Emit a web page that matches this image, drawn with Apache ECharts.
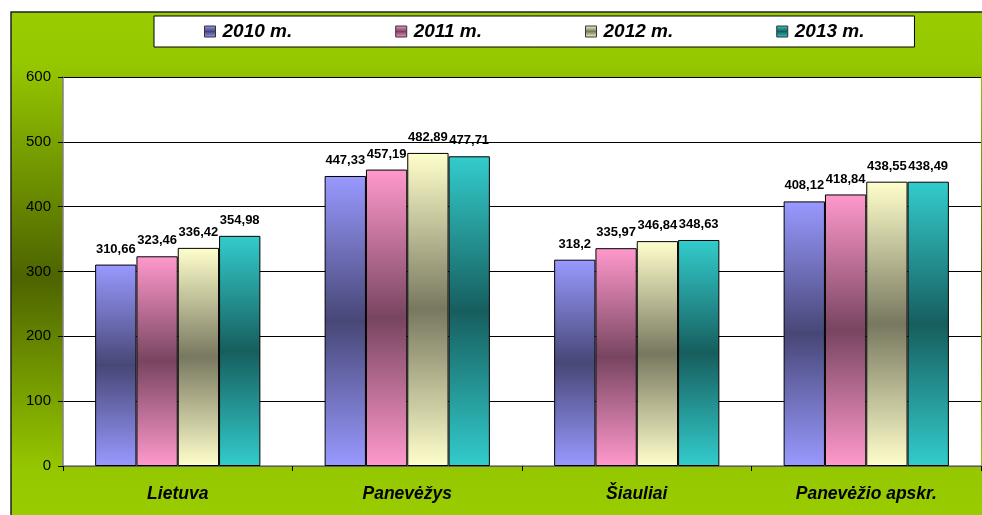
<!DOCTYPE html>
<html>
<head>
<meta charset="utf-8">
<script src="https://cdn.jsdelivr.net/npm/echarts@6/dist/echarts.min.js"></script>
<style>
  html, body { margin: 0; padding: 0; background: #fff; }
  #chart { width: 982px; height: 515px; }
</style>
</head>
<body>
<div id="chart"></div>
<script>
    // duomenys
    var categories = ['Lietuva', 'Panevėžys', 'Šiauliai', 'Panevėžio apskr.'];
    var seriesNames = ['2010 m.', '2011 m.', '2012 m.', '2013 m.'];
    var values2010 = [310.66, 447.33, 318.2, 408.12];
    var values2011 = [323.46, 457.19, 335.97, 418.84];
    var values2012 = [336.42, 482.89, 346.84, 438.55];
    var values2013 = [354.98, 477.71, 348.63, 438.49];
    var yTicks = [0, 100, 200, 300, 400, 500, 600];

    // light (edge) and dark (middle) colour of each bar gradient
    var lightColors = ['#9999ff', '#ff99cc', '#ffffcc', '#33cccc'];
    var darkColors = ['#474777', '#784560', '#787860', '#175e5e'];

    var font = 'Liberation Sans, Arial, sans-serif';

    function barGradient(i) {
        return new echarts.graphic.LinearGradient(0, 0, 0, 1, [
            {offset: 0, color: lightColors[i]},
            {offset: 0.5, color: darkColors[i]},
            {offset: 1, color: lightColors[i]}
        ]);
    }

    function makeSeries(name, data, i) {
        return {
            name: name,
            type: 'bar',
            data: data,
            barGap: 0,
            barCategoryGap: '28%',
            itemStyle: {color: barGradient(i), borderColor: '#000', borderWidth: 1},
            label: {
                show: true,
                position: 'top',
                distance: 9,
                color: '#000',
                fontFamily: font,
                fontWeight: 'bold',
                fontSize: 13,
                formatter: function (p) {
                    return String(p.value).replace('.', ',');
                }
            }
        };
    }

    var chart = echarts.init(document.getElementById('chart'));
    chart.setOption({
        animation: false,
        color: lightColors,
        graphic: [{
            type: 'rect',
            z: -10,
            shape: {x: 11, y: 12, width: 975, height: 510},
            style: {
                fill: new echarts.graphic.LinearGradient(0, 0, 0, 1, [
                    {offset: 0, color: '#99cc00'},
                    {offset: 0.1, color: '#96c800'},
                    {offset: 0.52, color: '#4d6400'},
                    {offset: 0.9, color: '#96c800'},
                    {offset: 1, color: '#99cc00'}
                ]),
                stroke: '#222',
                lineWidth: 1.5
            }
        }],
        legend: {
            data: seriesNames,
            left: 154,
            top: 16,
            padding: [6, 50, 6, 50],
            itemGap: 103,
            itemWidth: 11,
            itemHeight: 11,
            backgroundColor: '#fff',
            borderColor: '#000',
            borderWidth: 1,
            borderRadius: 0,
            icon: 'rect',
            itemStyle: {borderColor: '#333', borderWidth: 1},
            textStyle: {
                fontFamily: font,
                fontWeight: 'bold',
                fontStyle: 'italic',
                fontSize: 19,
                color: '#000',
                padding: [0, 0, 0, 2]
            }
        },
        grid: {left: 63, right: 1, top: 77, bottom: 49, backgroundColor: '#fff', show: true, borderWidth: 0},
        xAxis: {
            type: 'category',
            data: categories,
            axisLine: {lineStyle: {color: '#808080', width: 1.5}},
            axisTick: {show: true, length: 5, lineStyle: {color: '#000'}},
            axisLabel: {
                margin: 19,
                color: '#000',
                fontFamily: font,
                fontWeight: 'bold',
                fontStyle: 'italic',
                fontSize: 17.5
            }
        },
        yAxis: {
            type: 'value',
            min: yTicks[0],
            max: yTicks[yTicks.length - 1],
            interval: 100,
            axisLine: {show: true, lineStyle: {color: '#808080', width: 1.5}},
            axisTick: {show: true, length: 5, lineStyle: {color: '#000'}},
            splitLine: {lineStyle: {color: '#000', width: 1}},
            axisLabel: {margin: 12, color: '#000', fontFamily: font, fontSize: 15}
        },
        series: [
            makeSeries(seriesNames[0], values2010, 0),
            makeSeries(seriesNames[1], values2011, 1),
            makeSeries(seriesNames[2], values2012, 2),
            makeSeries(seriesNames[3], values2013, 3)
        ]
    });
</script>
</body>
</html>
